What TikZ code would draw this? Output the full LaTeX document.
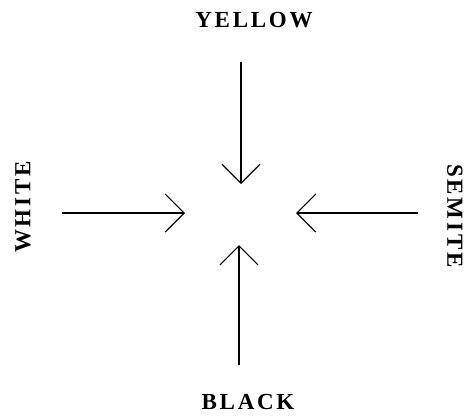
\documentclass[tikz,border=0pt]{standalone}
\usepackage{fontspec}
\setmainfont{Liberation Serif}[LetterSpace=12]
\usetikzlibrary{arrows.meta}
\tikzset{
	word/.style={font=\fontsize{23}{27}\selectfont\bfseries, inner sep=0pt},
	pointer/.style={->, line width=1.2pt}
}
\begin{document}
\begin{tikzpicture}[x=1pt,y=-1pt,>={Straight Barb[length=19pt,width=38pt]}]
				\useasboundingbox (0,0) rectangle (467,418);
				\node[word] (yellow) at (254,20) {YELLOW};
				\node[word] (black) at (248,402) {BLACK};
				\node[word, rotate=90] (white) at (23,207) {WHITE};
				\node[word, rotate=-90] (semite) at (455,216) {SEMITE};
				\coordinate (ytail) at (241,62);
				\coordinate (ytip) at (241,184);
				\coordinate (btail) at (239,365);
				\coordinate (btip) at (239,245);
				\coordinate (wtail) at (62,213);
				\coordinate (wtip) at (185,213);
				\coordinate (stail) at (418,213);
				\coordinate (stip) at (296,213);
				\foreach \a/\b in {ytail/ytip, btail/btip, wtail/wtip, stail/stip} {
					\draw[pointer] (\a)--(\b);
				};
\end{tikzpicture}
\end{document}
